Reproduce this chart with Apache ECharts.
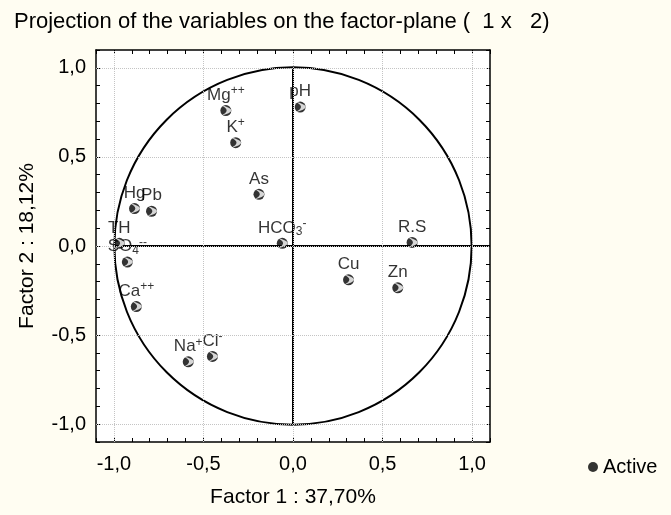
<!DOCTYPE html>
<html>
<head>
<meta charset="utf-8">
<script src="https://cdn.jsdelivr.net/npm/echarts@6/dist/echarts.min.js"></script>
<style>
html,body{margin:0;padding:0;background:#fffdf2;}
#chart{width:671px;height:515px;}
</style>
</head>
<body>
<div id="chart"></div>
<script>
// ---- data ----
var varNames = ['Mg', 'pH', 'K', 'As', 'Hg', 'Pb', 'HCO', 'TH', 'SO', 'Ca', 'Na', 'Cl', 'R.S', 'Cu', 'Zn'];
var varSub   = ['',   '',   '',  '',   '',   '',   '3',   '',   '4',  '',   '',   '',   '',    '',   ''];
var varSup   = ['++', '',   '+', '',   '',   '',   '-',   '',   '--', '++', '+',  '-',  '',    '',   ''];
var factor1  = [-0.375, 0.04, -0.32, -0.19, -0.885, -0.79, -0.06, -0.97, -0.925, -0.875, -0.585, -0.45, 0.665, 0.31, 0.585];
var factor2  = [0.76, 0.78, 0.58, 0.29, 0.21, 0.195, 0.015, 0.015, -0.09, -0.34, -0.65, -0.62, 0.02, -0.19, -0.235];
var gridVals = [-1.0, -0.5, 0.0, 0.5, 1.0];
var axisMin = -1.1, axisMax = 1.1, tickStep = 0.1;
var unitCircle = [[0, 0, 1]];               // centre x, centre y, radius
var crossLines = [[-1.0, 0, 1.1, 0], [0, -1.0, 0, 1.0]]; // x1,y1,x2,y2

var FONT = 'Liberation Sans, Arial, sans-serif';
var NOTCH = 'path://M5.6,1.6 Q9.6,5 5.6,8.6 Q7.9,5 5.6,1.6 Z';

function fmt(v) {
  var r = Math.round(v * 10) / 10;
  if (Math.abs(r * 2 - Math.round(r * 2)) > 1e-6) return '';
  if (Math.abs(r) < 1e-9) r = 0;
  return r.toFixed(1).replace('.', ',');
}

function makeAxis(pos, showLabel, nameTxt, isY) {
  return {
    type: 'value', min: axisMin, max: axisMax, interval: tickStep,
    position: pos,
    name: nameTxt || '', nameLocation: 'middle',
    nameGap: isY ? 58 : 45,
    nameTextStyle: {fontSize: 21, color: '#000', fontFamily: FONT},
    axisLine: {show: true, onZero: false, lineStyle: {color: '#000', width: 1.5}},
    axisTick: {show: true, inside: true, length: 4, lineStyle: {color: '#000', width: 1}},
    axisLabel: {show: showLabel, formatter: fmt, fontSize: 20, color: '#000', fontFamily: FONT, margin: isY ? 10 : 12,
                showMinLabel: true, showMaxLabel: true},
    splitLine: {show: false}
  };
}

var pts = factor1.map(function (x, i) { return [x, factor2[i], i]; });

var chart = echarts.init(document.getElementById('chart'));
chart.setOption({
  backgroundColor: '#fffdf2',
  animation: false,
  title: {
    text: 'Projection of the variables on the factor-plane (  1 x   2)',
    left: 14, top: 11, padding: 0,
    textStyle: {fontSize: 22, fontWeight: 'normal', color: '#000', fontFamily: FONT}
  },
  legend: {
    data: [{name: 'Active', icon: 'circle'}],
    left: 588, top: 457, padding: 0, itemWidth: 10, itemHeight: 10, itemGap: 10,
    textStyle: {fontSize: 20, color: '#000', fontFamily: FONT}
  },
  grid: {left: 96, right: 181, top: 50, bottom: 73, show: true, backgroundColor: '#ffffff', borderWidth: 0},
  xAxis: [makeAxis('bottom', true, 'Factor 1 : 37,70%', false), makeAxis('top', false, '', false)],
  yAxis: [makeAxis('left', true, 'Factor 2 : 18,12%', true), makeAxis('right', false, '', true)],
  series: [
    {
      type: 'scatter', name: 'grid', data: [], silent: true,
      markLine: {
        silent: true, symbol: ['none', 'none'], label: {show: false},
        lineStyle: {type: 'dotted', color: '#c4c4c4', width: 1},
        data: gridVals.map(function (v) { return {xAxis: v}; }).concat(gridVals.map(function (v) { return {yAxis: v}; }))
      }
    },
    {
      type: 'custom', name: 'circle', silent: true, data: unitCircle,
      renderItem: function (params, api) {
        var c = api.coord([api.value(0), api.value(1)]);
        var s = api.size([api.value(2), api.value(2)]);
        return {type: 'circle', shape: {cx: c[0], cy: c[1], r: (s[0] + s[1]) / 2},
                style: {fill: 'none', stroke: '#000', lineWidth: 2}};
      }
    },
    {
      type: 'custom', name: 'cross', silent: true, data: crossLines,
      renderItem: function (params, api) {
        var a = api.coord([api.value(0), api.value(1)]);
        var b = api.coord([api.value(2), api.value(3)]);
        return {type: 'line', shape: {x1: a[0], y1: a[1], x2: b[0], y2: b[1]},
                style: {stroke: '#000', lineWidth: 2}};
      }
    },
    {
      type: 'scatter', name: 'Active', data: pts, symbol: 'circle', symbolSize: 11, z: 3,
      itemStyle: {color: '#000'},
      label: {
        show: true, position: 'top', distance: 0, color: '#000', fontFamily: FONT,
        formatter: function (p) {
          var i = p.data[2];
          var s = '{n|' + varNames[i] + '}';
          if (varSub[i]) s += '{sub|' + varSub[i] + '}';
          if (varSup[i]) s += '{sup|' + varSup[i] + '}';
          return s;
        },
        rich: {
          n: {fontSize: 17, lineHeight: 20, color: '#000', fontFamily: FONT},
          sub: {fontSize: 12, lineHeight: 12, verticalAlign: 'bottom', color: '#000', fontFamily: FONT},
          sup: {fontSize: 12, lineHeight: 12, verticalAlign: 'top', color: '#000', fontFamily: FONT}
        }
      }
    },
    {
      type: 'scatter', name: 'notch', data: pts, symbol: NOTCH, symbolSize: 11, z: 4, silent: true,
      itemStyle: {color: '#ffffff'}, label: {show: false}
    }
  ]
});
</script>
</body>
</html>
